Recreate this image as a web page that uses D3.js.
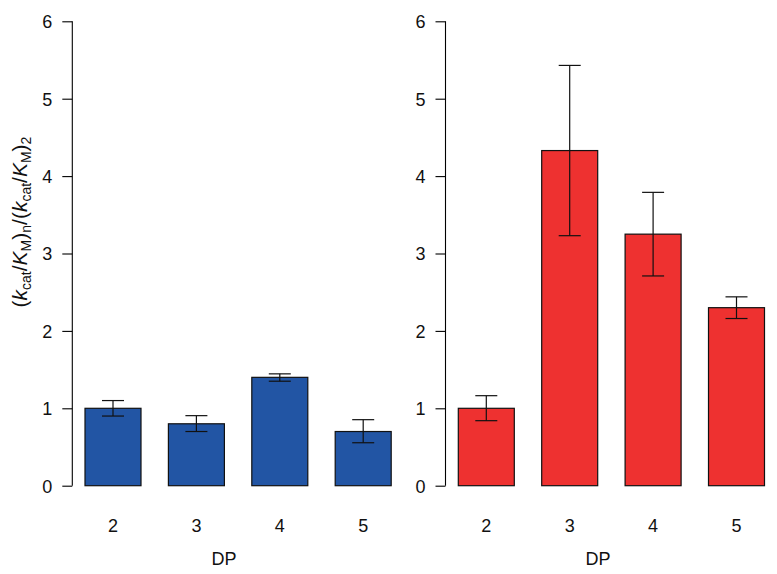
<!DOCTYPE html>
<html><head><meta charset="utf-8">
<script src="https://cdn.jsdelivr.net/npm/d3@7"></script>
<style>body{margin:0;background:#fff}svg{display:block}text{font-family:"Liberation Sans",Arial,sans-serif}</style>
</head><body><svg id="c" width="777" height="574"></svg>
<script>
const categories = ["2","3","4","5"];
const leftValues = [1.0, 0.80, 1.40, 0.70];
const leftLower  = [0.90, 0.70, 1.35, 0.555];
const leftUpper  = [1.10, 0.905, 1.445, 0.853];
const rightValues = [1.0, 4.33, 3.25, 2.30];
const rightLower  = [0.84, 3.23, 2.71, 2.16];
const rightUpper  = [1.163, 5.43, 3.79, 2.44];
const yTicks = [0,1,2,3,4,5,6];

const svg = d3.select("#c");
const y = d3.scaleLinear().domain([0,6]).range([485.7, 21.3]);
const FS = 18;

function panel(axisX, barStart, vals, lo, hi, color, dpX){
  const xs = d3.scalePoint().domain(categories).range([barStart + 28, barStart + 28 + 3*83.4]);
  const bw = 56;
  const g = svg.append("g");
  const ax = g.append("g").attr("transform", `translate(${axisX},0)`)
    .call(d3.axisLeft(y).tickValues(yTicks).tickSize(10).tickPadding(10).tickFormat(d3.format("d")));
  ax.attr("font-size", FS).attr("font-family","Liberation Sans, Arial, sans-serif");
  ax.select(".domain").attr("d", `M0,${y(0)}V${y(6)}`).attr("stroke","#000").attr("stroke-width",1.1);
  ax.selectAll(".tick line").attr("stroke","#000").attr("stroke-width",1.1);
  ax.selectAll(".tick text").attr("fill","#111").attr("dy","0.36em").attr("text-anchor","middle").attr("x",-25);
  g.selectAll("rect.b").data(vals).join("rect")
    .attr("x",(d,i)=>xs(categories[i]) - bw/2).attr("width",bw)
    .attr("y",d=>y(d)).attr("height",d=>y(0)-y(d))
    .attr("fill",color).attr("stroke","#111").attr("stroke-width",1.2);
  const cap = 11;
  vals.forEach((d,i)=>{
    const cx = xs(categories[i]);
    g.append("line").attr("x1",cx).attr("x2",cx).attr("y1",y(lo[i])).attr("y2",y(hi[i])).attr("stroke","#111").attr("stroke-width",1.2);
    g.append("line").attr("x1",cx-cap).attr("x2",cx+cap).attr("y1",y(lo[i])).attr("y2",y(lo[i])).attr("stroke","#111").attr("stroke-width",1.2);
    g.append("line").attr("x1",cx-cap).attr("x2",cx+cap).attr("y1",y(hi[i])).attr("y2",y(hi[i])).attr("stroke","#111").attr("stroke-width",1.2);
  });
  g.selectAll("text.xl").data(categories).join("text")
    .attr("x",d=>xs(d)).attr("y",531.5).attr("text-anchor","middle")
    .attr("font-size",FS).attr("fill","#111").text(d=>d);
  g.append("text").attr("x",dpX).attr("y",565).attr("text-anchor","middle")
    .attr("font-size",FS).attr("fill","#111").text("DP");
}

panel(72.3, 85, leftValues, leftLower, leftUpper, "#2255A4", 224);
panel(445.5, 458.3, rightValues, rightLower, rightUpper, "#EE3130", 598);

const yl = svg.append("text").attr("transform","translate(27,222) rotate(-90)")
  .attr("text-anchor","middle").attr("font-size",21).attr("fill","#111");
function add(t, opts={}){
  const s = yl.append("tspan").text(t);
  if(opts.it) s.attr("font-style","italic");
  if(opts.sub){ s.attr("baseline-shift","-28%").attr("font-size",14); }
  return s;
}
add("(");add("k",{it:1});add("cat",{sub:1});add("/");add("K",{it:1});add("M",{sub:1});add(")");add("n",{sub:1});
add("/(");add("k",{it:1});add("cat",{sub:1});add("/");add("K",{it:1});add("M",{sub:1});add(")");add("2",{sub:1});
</script></body></html>
